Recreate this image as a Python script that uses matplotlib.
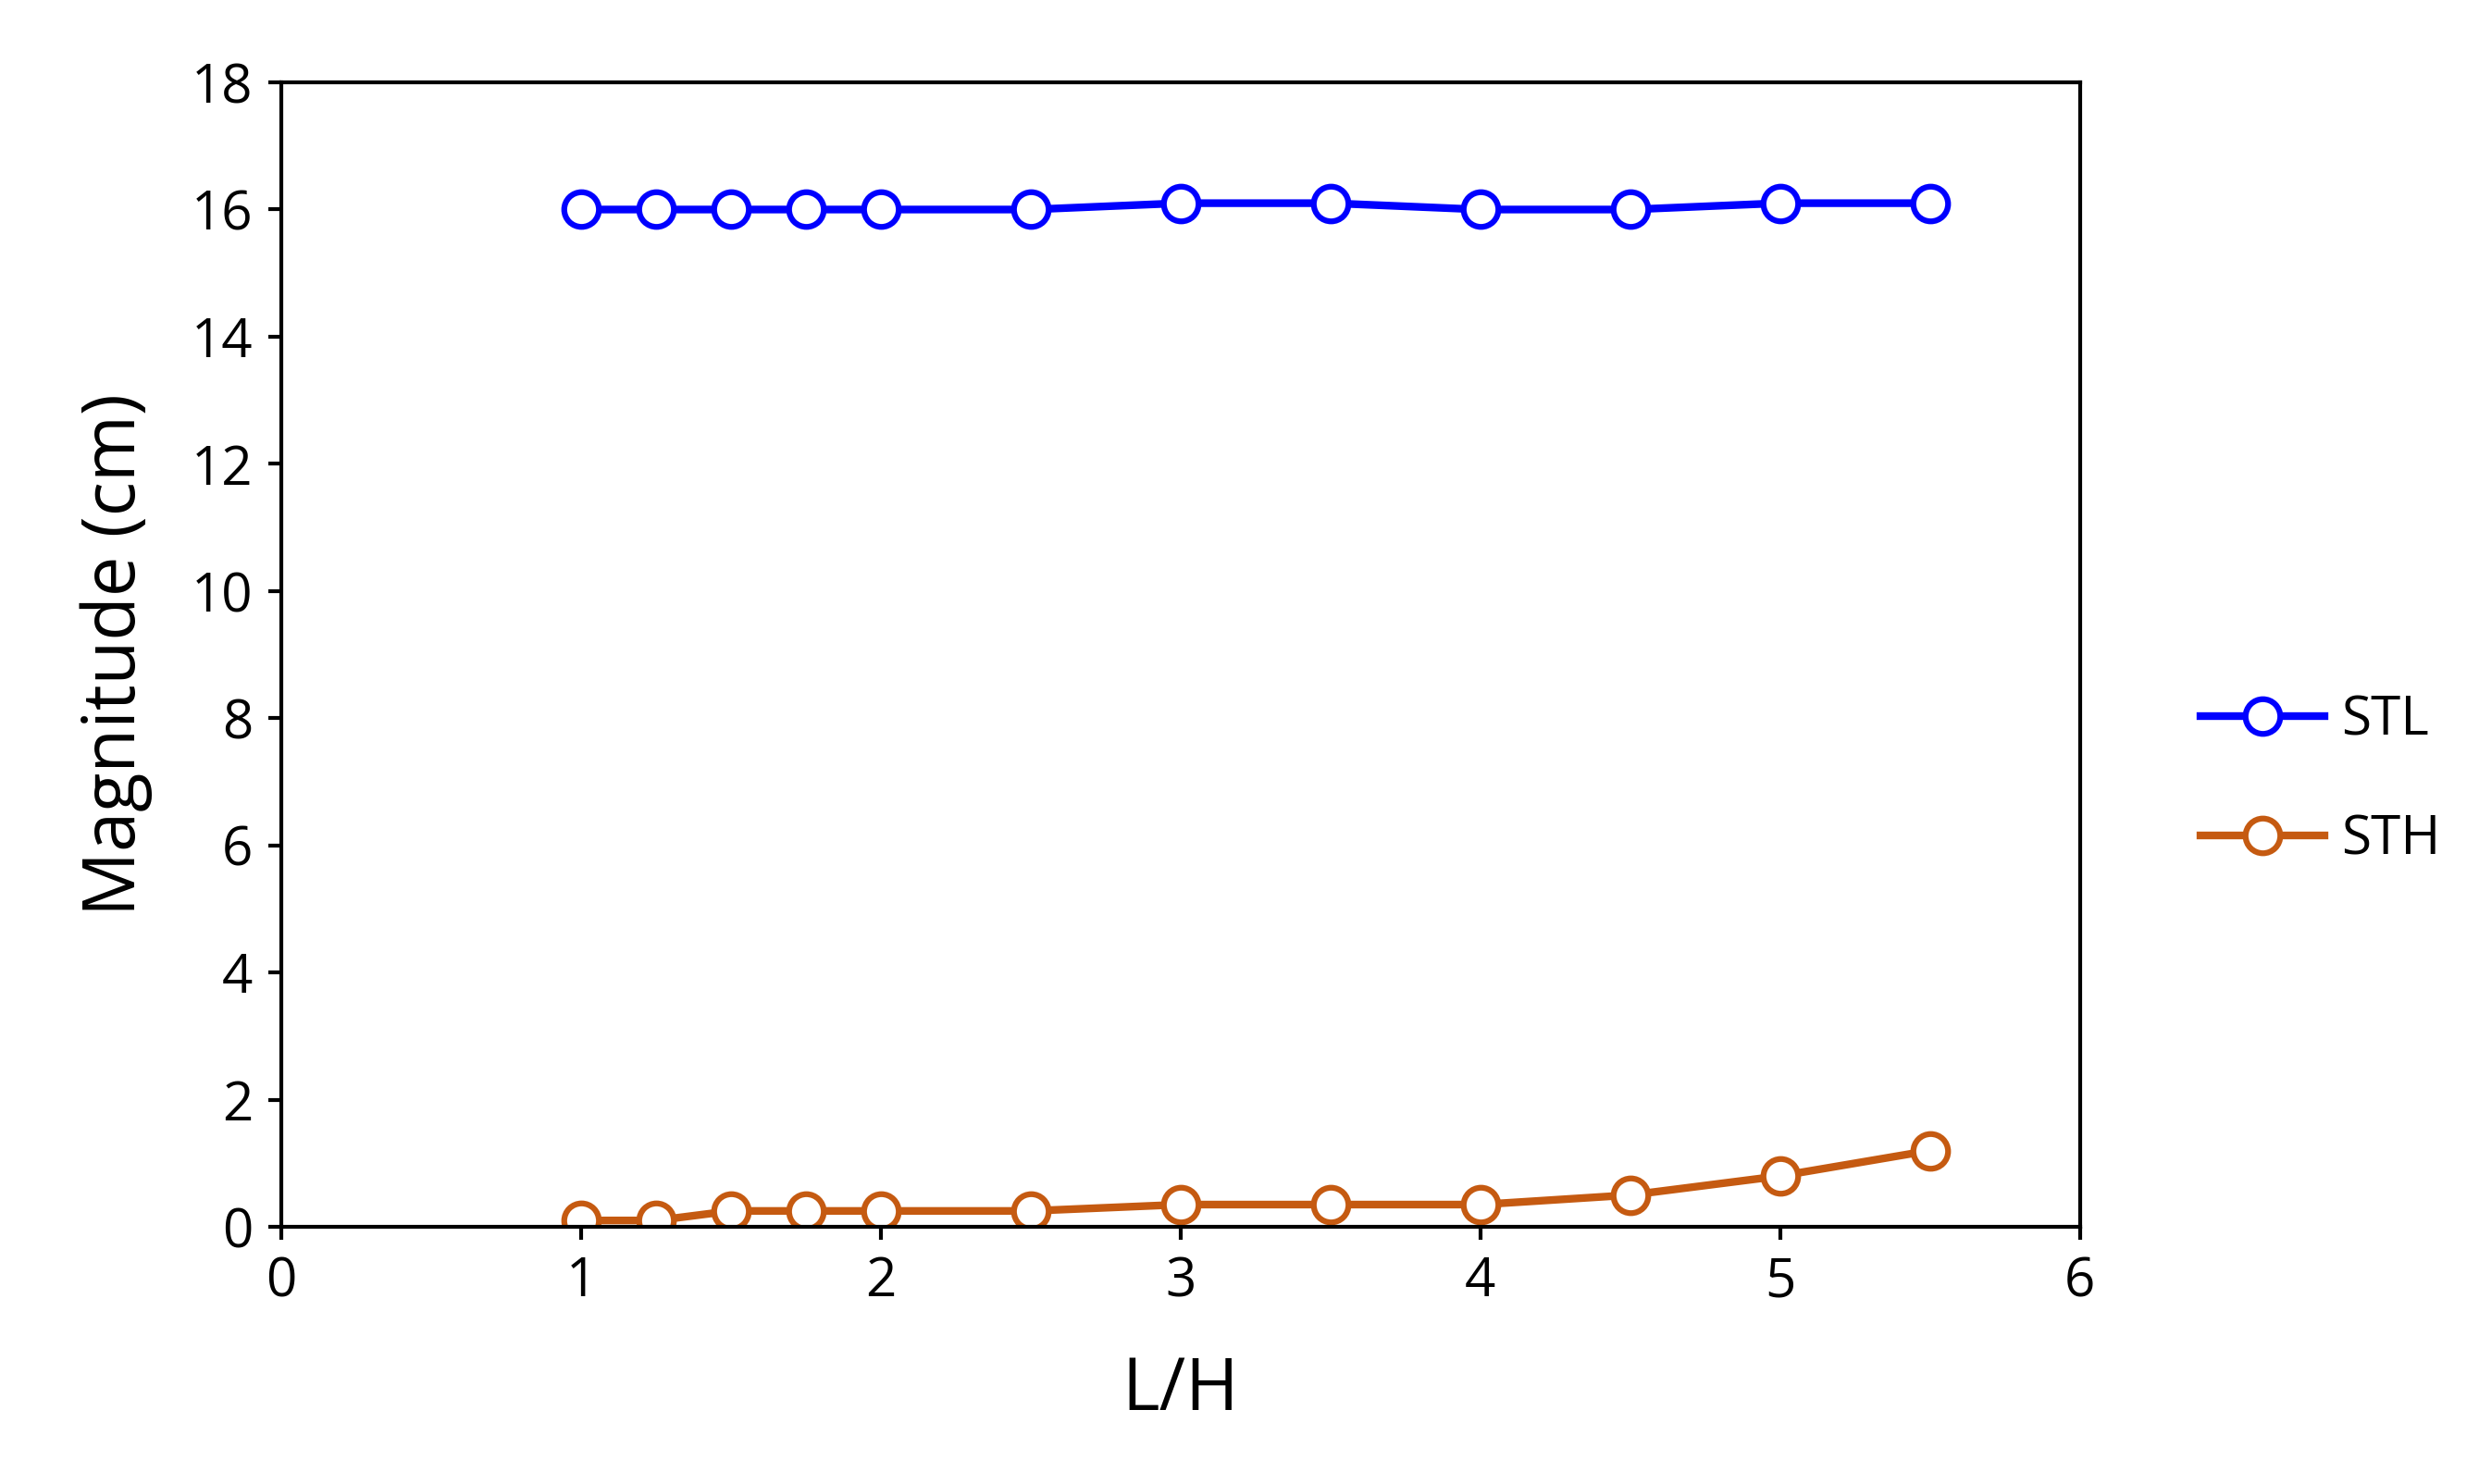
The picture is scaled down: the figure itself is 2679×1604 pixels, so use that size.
import matplotlib
matplotlib.use("Agg")
import matplotlib.pyplot as plt

lh = [1, 1.25, 1.5, 1.75, 2, 2.5, 3, 3.5, 4, 4.5, 5, 5.5]
stl = [16, 16, 16, 16, 16, 16, 16.1, 16.1, 16, 16, 16.1, 16.1]
sth = [0.1, 0.1, 0.25, 0.25, 0.25, 0.25, 0.35, 0.35, 0.35, 0.5, 0.8, 1.2]

plt.rcParams['font.family'] = ['Open Sans', 'DejaVu Sans']
fig = plt.figure(figsize=(26.79, 16.04), dpi=100)
ax = fig.add_axes([0.1135, 0.1733, 0.7255, 0.7712])
kw = dict(lw=6, marker='o', markersize=27, markerfacecolor='white', markeredgewidth=4.5)
ax.plot(lh, stl, color='#0000FF', label='STL', **kw)
ax.plot(lh, sth, color='#C55A11', label='STH', **kw)
ax.set_xlim(0, 6)
ax.set_ylim(0, 18)
ax.set_xticks(range(0, 7))
ax.set_yticks(range(0, 19, 2))
ax.tick_params(labelsize=42, width=3, length=10, direction='out', pad=12)
for s in ax.spines.values():
    s.set_linewidth(3)
ax.set_xlabel('L/H', fontsize=56, labelpad=35)
ax.set_ylabel('Magnitude (cm)', fontsize=56, labelpad=30)
ax.legend(loc='center left', bbox_to_anchor=(1.04, 0.39), frameon=False,
          fontsize=42, handlelength=2.3, labelspacing=1.2, handletextpad=0.3)
fig.savefig('out.png', dpi=100, facecolor='white')
